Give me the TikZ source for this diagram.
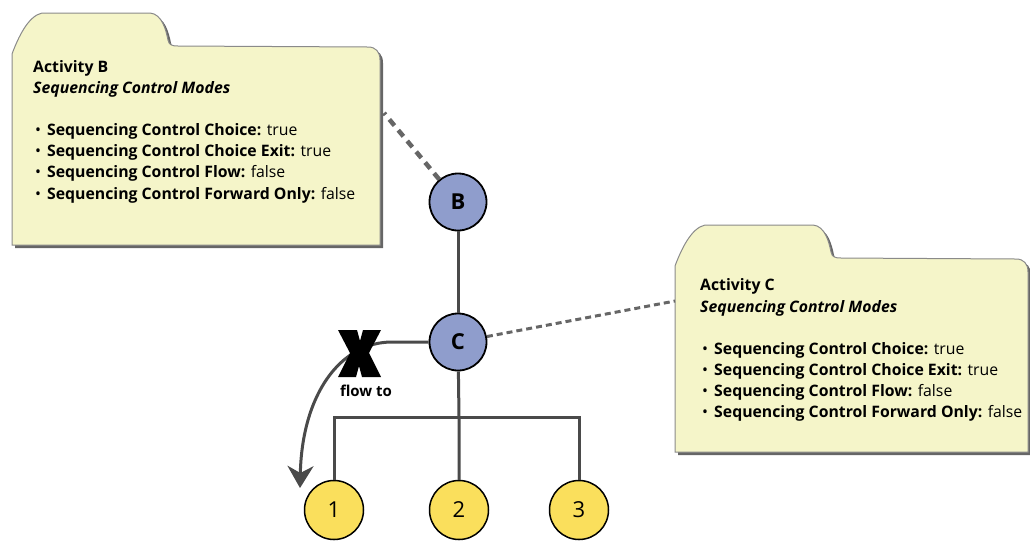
\documentclass[tikz,border=0pt]{standalone}
\usepackage{fontspec}
\setmainfont{Open Sans}
\usetikzlibrary{arrows.meta}
\definecolor{foldfill}{HTML}{F5F5C9}
\definecolor{foldline}{HTML}{8A8A8A}
\definecolor{foldshadow}{HTML}{666666}
\definecolor{nodeblue}{HTML}{8F9DCC}
\definecolor{nodeyellow}{HTML}{FADF5C}
\definecolor{linegray}{HTML}{4A4A4A}
\definecolor{dashgray}{HTML}{666666}
\newcommand{\folderpath}[4]{({#1},{#4}) -- ({#1},{#2+41}) .. controls ({#1+6},{#2+25}) and ({#1+16},{#2+3}) .. ({#1+30},{#2}) -- ({#1+138},{#2}) .. controls ({#1+150},{#2+1}) and ({#1+154},{#2+17}) .. ({#1+156},{#2+27}) .. controls ({#1+157},{#2+32}) and ({#1+160},{#2+33}) .. ({#1+166},{#2+33}) -- ({#3-12},{#2+34}) .. controls ({#3-4},{#2+34}) and ({#3},{#2+39}) .. ({#3},{#2+47}) -- ({#3},{#4}) -- cycle}
\newcommand{\bul}[2]{\makebox[12pt][l]{•}\textbf{#1} #2}
\tikzset{
  ftxt/.style={anchor=base west, inner sep=0pt, font=\fontsize{15.8}{17}\selectfont},
  topnode/.style={circle, draw=black, line width=1.8pt, fill=nodeblue, minimum size=57pt, inner sep=0pt, font=\fontsize{22}{22}\selectfont\bfseries},
  leafnode/.style={circle, draw=black, line width=1.5pt, fill=nodeyellow, minimum size=59pt, inner sep=0pt, font=\fontsize{22}{22}\selectfont},
  treeline/.style={draw=linegray, line width=3pt},
  dashB/.style={draw=dashgray, line width=4.5pt, dash pattern=on 8pt off 6pt},
  dashC/.style={draw=dashgray, line width=3pt, dash pattern=on 6pt off 4pt},
  flowarrow/.style={draw=linegray, line width=3pt, -{Stealth[length=22pt,width=26pt,inset=7pt]}},
}
\begin{document}
\begin{tikzpicture}[x=1pt,y=-1pt]
\useasboundingbox (0,0) rectangle (1030,542);
% folders
\begin{scope}[shift={(3,3)}]
\fill[foldshadow] \folderpath{12}{13}{380}{245};
\fill[foldshadow] \folderpath{675}{225}{1028}{452};
\end{scope}
\filldraw[fill=foldfill, draw=foldline, line width=1pt] \folderpath{12}{13}{380}{245};
\filldraw[fill=foldfill, draw=foldline, line width=1pt] \folderpath{675}{225}{1028}{452};
% folder texts
\node[ftxt, font=\fontsize{15.8}{17}\selectfont\bfseries] (bt) at (33,72) {Activity B};
\node[ftxt, font=\fontsize{15.8}{17}\selectfont\bfseries\itshape] (bs) at (33,93) {Sequencing Control Modes};
\node[ftxt] (b1) at (35,135) {\bul{Sequencing Control Choice:}{true}};
\node[ftxt] (b2) at (35,156) {\bul{Sequencing Control Choice Exit:}{true}};
\node[ftxt] (b3) at (35,177) {\bul{Sequencing Control Flow:}{false}};
\node[ftxt] (b4) at (35,199) {\bul{Sequencing Control Forward Only:}{false}};
\node[ftxt, font=\fontsize{15.8}{17}\selectfont\bfseries] (ct) at (700,290) {Activity C};
\node[ftxt, font=\fontsize{15.8}{17}\selectfont\bfseries\itshape] (cs) at (700,312) {Sequencing Control Modes};
\node[ftxt] (c1) at (702,354) {\bul{Sequencing Control Choice:}{true}};
\node[ftxt] (c2) at (702,375) {\bul{Sequencing Control Choice Exit:}{true}};
\node[ftxt] (c3) at (702,396) {\bul{Sequencing Control Flow:}{false}};
\node[ftxt] (c4) at (702,417) {\bul{Sequencing Control Forward Only:}{false}};
% tree nodes
\node[topnode] (B) at (458,202) {B};
\node[topnode] (C) at (458,342) {C};
\node[leafnode] (n1) at (334,510) {1};
\node[leafnode] (n2) at (459,510) {2};
\node[leafnode] (n3) at (579,510) {3};
\coordinate (bar) at (459,417);
\coordinate (fb) at (384,113);
\coordinate (fc) at (675,301);
\coordinate (tip) at (300,488);
% connectors
\draw[treeline] (B) -- (C);
\draw[treeline] (C) -- (bar) -- (n2);
\draw[treeline] (n1.north) |- (bar) -| (n3.north);
\draw[dashB] (B) -- (fb);
\draw[dashC] (C) -- (fc);
\draw[flowarrow] (C.west) -- (392,342) .. controls (340,342) and (302,395) .. (tip);
% X mark (blocked flow)
\fill[black] (338,330) -- (357,330) -- (360,341) -- (363,330) -- (381,330) -- (369,353) -- (381,377) -- (362,377) -- (359,366) -- (356,377) -- (338,377) -- (350,353) -- cycle;
\node[inner sep=0pt, font=\fontsize{15}{15}\selectfont\bfseries] (flow) at (366,391) {flow to};
\end{tikzpicture}
\end{document}
